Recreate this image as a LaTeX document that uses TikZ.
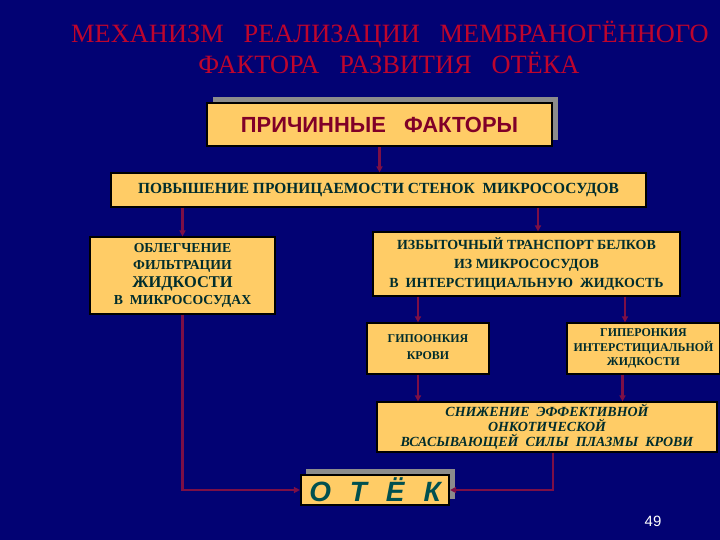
\documentclass[tikz,border=0pt]{standalone}
\usepackage{fontspec}
\setmainfont{Liberation Serif}
\newfontfamily\arialf{Liberation Sans}
\usetikzlibrary{arrows.meta,shadows}
\definecolor{navy}{RGB}{2,2,115}
\definecolor{boxfill}{RGB}{255,204,102}
\definecolor{titlered}{RGB}{190,5,45}
\definecolor{maroon}{RGB}{128,0,40}
\definecolor{linec}{RGB}{125,15,70}
\definecolor{txt}{RGB}{0,45,45}
\definecolor{otekc}{RGB}{0,80,80}
\tikzset{
  box/.style={fill=boxfill, draw=black, line width=1.2bp, inner sep=0pt, align=center, text=txt, font=\bfseries},
  bigbox/.style={box, line width=2.2bp, copy shadow={shadow xshift=6bp, shadow yshift=6bp, fill=gray!90, draw=none}},
  arr/.style={draw=linec, line width=2.2bp, -{Triangle[length=6bp,width=6bp]}},
}
\begin{document}
\begin{tikzpicture}[x=1bp,y=-1bp]
\fill[navy] (0,0) rectangle (720,540);
\useasboundingbox (0,0) rectangle (720,540);
% title
\node[text=titlered, font=\fontsize{26.5}{28}\selectfont] (t1) at (390,35) {МЕХАНИЗМ\ \ \ РЕАЛИЗАЦИИ\ \ \ МЕМБРАНОГЁННОГО};
\node[text=titlered, font=\fontsize{26.5}{28}\selectfont] (t2) at (389,63) {ФАКТОРА\ \ \ РАЗВИТИЯ\ \ \ ОТЁКА};
% boxes
\node[bigbox, minimum width=345bp, minimum height=43bp, text=maroon, font=\arialf\bfseries\fontsize{22}{24}\selectfont] (b1) at (379.5,124.5) {ПРИЧИННЫЕ\ \ \ ФАКТОРЫ};
\node[box, minimum width=535bp, minimum height=34bp, font=\bfseries\fontsize{15.5}{18}\selectfont] (b2) at (378.5,190) {ПОВЫШЕНИЕ ПРОНИЦАЕМОСТИ СТЕНОК\ \ МИКРОСОСУДОВ};
\node[box, minimum width=185bp, minimum height=77bp, font=\bfseries\fontsize{13.8}{17.5}\selectfont] (b3) at (182.5,275.5) {ОБЛЕГЧЕНИЕ\\ФИЛЬТРАЦИИ\\{\fontsize{16.5}{17.5}\selectfont ЖИДКОСТИ}\\В\ \ МИКРОСОСУДАХ};
\node[box, minimum width=307bp, minimum height=64bp, font=\bfseries\fontsize{14}{19}\selectfont] (b4) at (526.5,264) {ИЗБЫТОЧНЫЙ ТРАНСПОРТ БЕЛКОВ\\ИЗ МИКРОСОСУДОВ\\В\ \ ИНТЕРСТИЦИАЛЬНУЮ\ \ ЖИДКОСТЬ};
\node[box, minimum width=122bp, minimum height=51bp, font=\bfseries\fontsize{12}{18}\selectfont] (b5) at (428,348.5) {\raisebox{3bp}{\shortstack{ГИПООНКИЯ\\[6bp]КРОВИ}}};
\node[box, minimum width=153bp, minimum height=51bp, font=\bfseries\fontsize{12}{14.5}\selectfont] (b6) at (643.5,348.5) {ГИПЕРОНКИЯ\\ИНТЕРСТИЦИАЛЬНОЙ\\ЖИДКОСТИ};
\node[box, minimum width=340bp, minimum height=50bp, font=\bfseries\itshape\fontsize{14}{15}\selectfont] (b7) at (547,427) {СНИЖЕНИЕ\ \ ЭФФЕКТИВНОЙ\\ОНКОТИЧЕСКОЙ\\ВСАСЫВАЮЩЕЙ\ \ СИЛЫ\ \ ПЛАЗМЫ\ \ КРОВИ};
\node[bigbox, minimum width=148bp, minimum height=30bp, copy shadow={shadow xshift=5bp, shadow yshift=6bp, fill=gray!90, draw=none}, text=otekc, font=\arialf\bfseries\itshape\fontsize{28}{29}\selectfont] (b8) at (375,490) {О\hspace{19bp}Т\hspace{19bp}Ё\hspace{19bp}К};
% page number
\node[text=white, font=\arialf\fontsize{15}{16}\selectfont] (pn) at (653,521) {49};
% connectors
\draw[arr] (b1.south) -- (b1.south |- b2.north);
\draw[arr] (b3.north |- b2.south) -- (b3.north);
\draw[arr] ([xshift=11.5bp]b4.north |- b2.south) -- ([xshift=11.5bp]b4.north);
\draw[arr] ([xshift=-10bp]b5.north |- b4.south) -- ([xshift=-10bp]b5.north);
\draw[arr] ([xshift=-18.5bp]b6.north |- b4.south) -- ([xshift=-18.5bp]b6.north);
\draw[arr] ([xshift=-10bp]b5.south) -- ([xshift=-10bp]b5.south |- b7.north);
\draw[arr] ([xshift=-21bp]b6.south) -- ([xshift=-21bp]b6.south |- b7.north);
\draw[arr] ([xshift=6bp]b7.south) |- (b8.east);
\draw[arr] (b3.south) |- (b8.west);
\end{tikzpicture}
\end{document}
